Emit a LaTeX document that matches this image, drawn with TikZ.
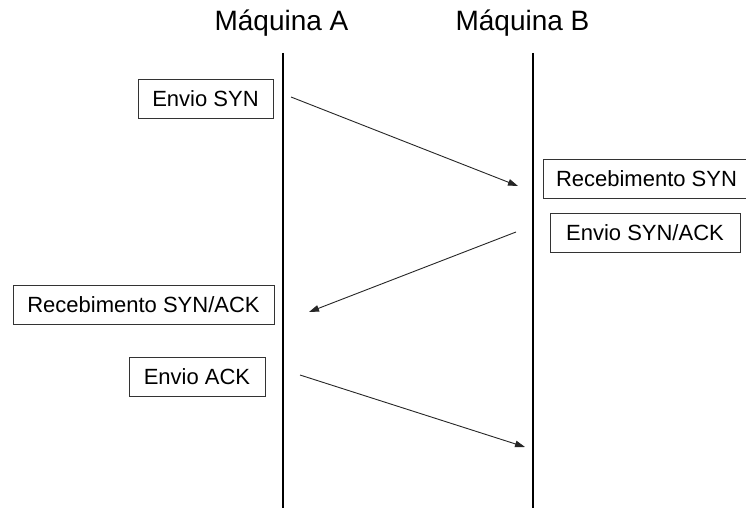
\documentclass[tikz,border=0pt]{standalone}
\usepackage{fontspec}
\setmainfont{Liberation Sans}
\usetikzlibrary{arrows.meta}
\begin{document}
\begin{tikzpicture}[x=1pt,y=-1pt,
  title/.style={font=\fontsize{28}{31}\selectfont, inner sep=0pt},
  lifeline/.style={line width=2.8pt, black},
  msgbox/.style={draw=black!80, line width=0.9pt, font=\fontsize{22}{24}\selectfont,
    inner sep=0pt, minimum height=39pt},
  msg/.style={draw=black!85, line width=0.9pt, -{Triangle[length=10pt,width=6.5pt]}}]
  \useasboundingbox[fill=white] (0,0) rectangle (746,508);

  % machine titles
  \node[title] (ta) at (281.5,23) {Máquina A};
  \node[title] (tb) at (522.5,23) {Máquina B};

  % lifelines
  \coordinate (la0) at (283,53);
  \coordinate (la1) at (283,510);
  \coordinate (lb0) at (533,53);
  \coordinate (lb1) at (533,510);
  \draw[lifeline] (la0) -- (la1);
  \draw[lifeline] (lb0) -- (lb1);

  % event boxes
  \node[msgbox, minimum width=135pt] (syn)  at (205.5,98.5) {Envio SYN};
  \node[msgbox, minimum width=207pt] (rsyn) at (646.5,179)  {Recebimento SYN};
  \node[msgbox, minimum width=190pt] (sa)   at (645,233)    {Envio SYN/ACK};
  \node[msgbox, minimum width=261pt] (rsa)  at (143.5,305)  {Recebimento SYN/ACK};
  \node[msgbox, minimum width=136pt] (ack)  at (197,377)    {Envio ACK};

  % message endpoints
  \coordinate (m1s) at (291,97);
  \coordinate (m1e) at (518,186);
  \coordinate (m2s) at (516,232);
  \coordinate (m2e) at (309,312);
  \coordinate (m3s) at (300,375);
  \coordinate (m3e) at (525,447);

  % messages
  \draw[msg] (m1s) -- (m1e);
  \draw[msg] (m2s) -- (m2e);
  \draw[msg] (m3s) -- (m3e);
\end{tikzpicture}
\end{document}
